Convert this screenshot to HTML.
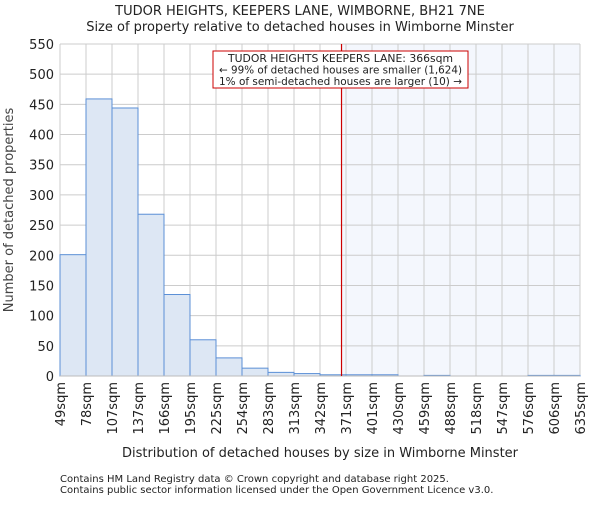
<!DOCTYPE html>
<html><head><meta charset="utf-8"><style>
body{margin:0;background:#fff;}
svg text{font-family:"DejaVu Sans","Liberation Sans",sans-serif;fill:#222;}
</style></head><body>
<svg id="chart" width="600" height="500" xmlns="http://www.w3.org/2000/svg">
<text x="300" y="15" text-anchor="middle" font-size="13">TUDOR HEIGHTS, KEEPERS LANE, WIMBORNE, BH21 7NE</text>
<text x="300" y="31" text-anchor="middle" font-size="13">Size of property relative to detached houses in Wimborne Minster</text>
<g id="plot"></g>
<text x="320" y="457" text-anchor="middle" font-size="13">Distribution of detached houses by size in Wimborne Minster</text>
<text transform="translate(13,210) rotate(-90)" text-anchor="middle" font-size="13" style="fill:#444">Number of detached properties</text>
<text x="60" y="482" font-size="10">Contains HM Land Registry data © Crown copyright and database right 2025.</text>
<text x="60" y="493" font-size="10">Contains public sector information licensed under the Open Government Licence v3.0.</text>
</svg>
<script>
const binLabels=["49sqm","78sqm","107sqm","137sqm","166sqm","195sqm","225sqm","254sqm","283sqm","313sqm","342sqm","371sqm","401sqm","430sqm","459sqm","488sqm","518sqm","547sqm","576sqm","606sqm","635sqm"];
const binEdges=[49,78,107,137,166,195,225,254,283,313,342,371,401,430,459,488,518,547,576,606,635];
const counts=[201,459,444,268,135,60,30,13,6,4,2,2,2,0,1,0,0,0,1,1];
const yTicks=[0,50,100,150,200,250,300,350,400,450,500,550];
const markerValue=366;
const L=60,R=580,T=44,B=376,yMax=550;
const NS="http://www.w3.org/2000/svg";
const g=document.getElementById('plot');
const n=counts.length, bw=(R-L)/n;
function xi(i){return L+i*bw;}
function xv(v){for(let i=0;i<binEdges.length-1;i++){if(v<=binEdges[i+1])return xi(i)+bw*(v-binEdges[i])/(binEdges[i+1]-binEdges[i]);}return R;}
function y(v){return B-(v/yMax)*(B-T);}
function mk(tag,attrs){const e=document.createElementNS(NS,tag);for(const k in attrs)e.setAttribute(k,attrs[k]);g.appendChild(e);return e;}
const mx=xv(markerValue);
let e=mk('rect',{x:mx,y:T,width:R-mx,height:B-T,fill:'#f4f7fd'});


yTicks.forEach(t=>{
 let l=mk('line',{x1:L,x2:R,y1:y(t),y2:y(t),stroke:'#ccc','stroke-width':1});
 
 
 let tx=mk('text',{x:L-6,y:y(t)+5,'text-anchor':'end','font-size':13});
 tx.textContent=t;
 
 
});
binLabels.forEach((s,i)=>{
 let l=mk('line',{x1:xi(i),x2:xi(i),y1:T,y2:B,stroke:'#ccc','stroke-width':1});
 
 
 let tx=mk('text',{transform:`translate(${xi(i)+5},382) rotate(-90)`,'text-anchor':'end','font-size':13});
 tx.textContent=s;
 
 
});
counts.forEach((c,i)=>{
 if(c<=0)return;
 let r=mk('rect',{x:xi(i),y:y(c),width:bw,height:B-y(c),fill:'#dde7f4',stroke:'#5b8fd6','stroke-width':1});
 
 
});
let ax=mk('line',{x1:L,x2:R,y1:B,y2:B,stroke:'#bbb','stroke-width':1});


let ml=mk('line',{x1:mx,x2:mx,y1:T,y2:B,stroke:'#c00','stroke-width':1.2});


let box=mk('rect',{x:213,y:51,width:255,height:37,fill:'#fff',stroke:'#c00','stroke-width':1});


["TUDOR HEIGHTS KEEPERS LANE: 366sqm","← 99% of detached houses are smaller (1,624)","1% of semi-detached houses are larger (10) →"].forEach((s,k)=>{
 let t=mk('text',{x:340.5,y:62+k*11.5,'text-anchor':'middle','font-size':10.5,textLength:k==0?225:243,lengthAdjust:'spacingAndGlyphs'});
 t.textContent=s;
 
 
});
</script>
</body></html>
